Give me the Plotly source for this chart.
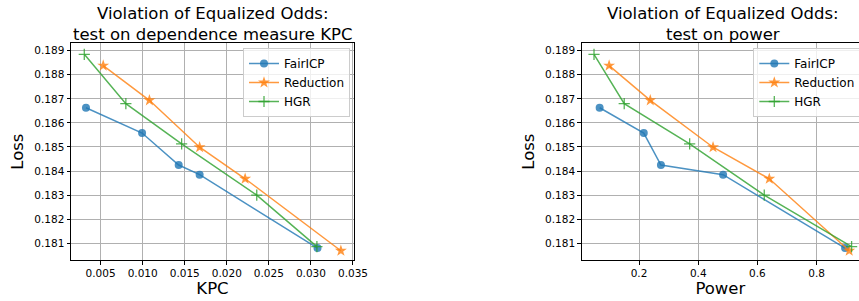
import plotly.graph_objects as go

# ---- data ----
series_names = ["FairICP", "Reduction", "HGR"]

kpc_fairicp = [0.00326, 0.00993, 0.01428, 0.01677, 0.03078]
kpc_reduction = [0.00531, 0.0108, 0.01677, 0.02218, 0.03356]
kpc_hgr = [0.00306, 0.0080, 0.01463, 0.02356, 0.03071]

power_fairicp = [0.067, 0.216, 0.274, 0.484, 0.896]
power_reduction = [0.099, 0.238, 0.450, 0.640, 0.910]
power_hgr = [0.048, 0.150, 0.371, 0.623, 0.918]

loss_fairicp = [0.18663, 0.18558, 0.18425, 0.18385, 0.18080]
loss_reduction = [0.18838, 0.18694, 0.18499, 0.18368, 0.18069]
loss_hgr = [0.18885, 0.18680, 0.18513, 0.18300, 0.18086]

y_ticks = [0.181, 0.182, 0.183, 0.184, 0.185, 0.186, 0.187, 0.188, 0.189]
kpc_ticks = [0.005, 0.010, 0.015, 0.020, 0.025, 0.030, 0.035]
power_ticks = [0.2, 0.4, 0.6, 0.8]

title_left = ["Violation of Equalized Odds:", "test on dependence measure KPC"]
title_right = ["Violation of Equalized Odds:", "test on power"]

# ---- styling ----
W, H = 859, 301
colors = ["rgba(31,119,180,0.8)", "rgba(255,127,14,0.8)", "rgba(44,160,44,0.8)"]
symbols = ["circle", "star", "cross-thin"]
msizes = [8, 9, 8]
FONT = "DejaVu Sans"

fig = go.Figure()

left = [kpc_fairicp, kpc_reduction, kpc_hgr]
right = [power_fairicp, power_reduction, power_hgr]
losses = [loss_fairicp, loss_reduction, loss_hgr]

for i, name in enumerate(series_names):
    mk = dict(symbol=symbols[i], size=msizes[i], color=colors[i],
              line=dict(width=1.3 if symbols[i] == "cross-thin" else 0, color=colors[i]))
    fig.add_trace(go.Scatter(x=left[i], y=losses[i], mode="lines+markers", name=name,
                             line=dict(color=colors[i], width=1.5), marker=mk,
                             xaxis="x", yaxis="y", legend="legend"))
    fig.add_trace(go.Scatter(x=right[i], y=losses[i], mode="lines+markers", name=name,
                             line=dict(color=colors[i], width=1.5), marker=mk,
                             xaxis="x2", yaxis="y2", legend="legend2"))

y0, y1 = 1 - 260 / H, 1 - 43.3 / H

axis_common = dict(showgrid=True, gridcolor="#b0b0b0", gridwidth=0.8,
                   showline=True, linecolor="black", linewidth=1, mirror=True,
                   ticks="outside", ticklen=3.5, tickcolor="black",
                   tickfont=dict(family=FONT, size=10.5, color="black"),
                   zeroline=False, automargin=False)

title_font = dict(size=16.5, family=FONT)

annotations = []
for cx, lines in [((71 + 354) / 2, title_left), ((581.7 + 864) / 2, title_right)]:
    annotations.append(dict(text="<br>".join(lines), x=cx / W, y=1 - 23.5 / H,
                            xref="paper", yref="paper",
                            xanchor="center", yanchor="middle", showarrow=False,
                            font=dict(family=FONT, size=16.5, color="black")))

legend_common = dict(y=1 - 48 / H, xanchor="left", yanchor="top",
                     bgcolor="rgba(255,255,255,0.8)", bordercolor="#cccccc", borderwidth=1,
                     font=dict(family=FONT, size=12), itemwidth=30, tracegroupgap=0)

fig.update_layout(
    width=W, height=H,
    margin=dict(l=0, r=0, t=0, b=0, autoexpand=False),
    paper_bgcolor="white", plot_bgcolor="white",
    font=dict(family=FONT, color="black"),
    xaxis=dict(domain=[71 / W, 354 / W], range=[0.00148, 0.03512],
               tickvals=kpc_ticks, ticktext=[f"{v:.3f}" for v in kpc_ticks],
               title=dict(text="KPC", font=title_font, standoff=4),
               anchor="y", **axis_common),
    yaxis=dict(domain=[y0, y1], range=[0.180306, 0.189307],
               tickvals=y_ticks, ticktext=[f"{v:.3f}" for v in y_ticks],
               title=dict(text="Loss", font=title_font, standoff=6),
               anchor="x", **axis_common),
    xaxis2=dict(domain=[581.7 / W, 1.0], range=[0.0064, 0.943],
                tickvals=power_ticks, ticktext=[f"{v:.1f}" for v in power_ticks],
                title=dict(text="Power", font=title_font, standoff=4),
                anchor="y2", **axis_common),
    yaxis2=dict(domain=[y0, y1], range=[0.180306, 0.189307],
                tickvals=y_ticks, ticktext=[f"{v:.3f}" for v in y_ticks],
                title=dict(text="Loss", font=title_font, standoff=6),
                anchor="x2", **axis_common),
    legend=dict(x=243 / W, **legend_common),
    legend2=dict(x=753.3 / W, **legend_common),
    annotations=annotations,
)

fig.write_html("out.html", config={"displayModeBar": False},
               post_script="document.body.style.margin='0';document.body.style.overflow='hidden';")
